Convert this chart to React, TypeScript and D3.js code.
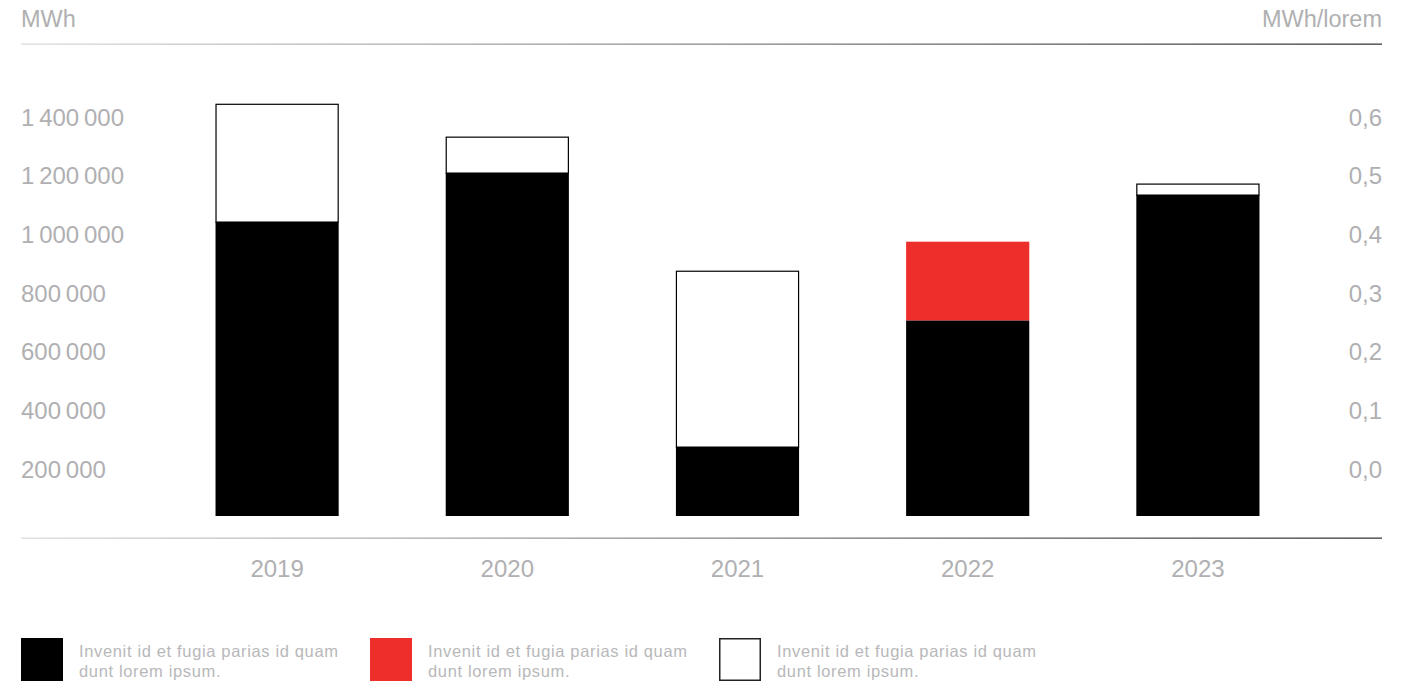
import React from "react";
import * as d3 from "d3";

const years = ["2019", "2020", "2021", "2022", "2023"];
const blackValues = [1043000, 1210000, 276000, 706000, 1135000];
const redValues = [0, 0, 0, 269000, 0];
const whiteValues = [402000, 123000, 600000, 0, 38000];
const leftTicks = [200000, 400000, 600000, 800000, 1000000, 1200000, 1400000];
const rightTicks = [0, 0.1, 0.2, 0.3, 0.4, 0.5, 0.6];
const legendLabels = [
  ["Invenit id et fugia parias id quam", "dunt lorem ipsum."],
  ["Invenit id et fugia parias id quam", "dunt lorem ipsum."],
  ["Invenit id et fugia parias id quam", "dunt lorem ipsum."],
];
const legendKinds = ["black", "red", "white"];

const W = 1413;
const H = 683;
const FONT = "'Liberation Sans', Arial, sans-serif";
const TICK_COLOR = "#b0b0b2";
const RED = "#ee2e2a";

export default function App() {
  const x = d3.scaleBand<string>().domain(years).range([162, 1313]).paddingInner(0.465).paddingOuter(0.2325);
  const y = d3.scaleLinear().domain([40000, 1400000]).range([516, 117]);
  const yR = d3.scaleLinear().domain([0, 0.6]).range([y(200000), y(1400000)]);
  const fmtL = (v: number) => d3.format(",")(v).replace(/,/g, "\u2009");
  const fmtR = (v: number) => d3.format(".1f")(v).replace(".", ",");
  const base = y.domain()[0];

  return (
    <svg width={W} height={H} style={{ position: "absolute", left: 0, top: 0, background: "#fff" }} fontFamily={FONT}>
      <defs>
        <linearGradient id="lineGrad" x1="0" x2="1" y1="0" y2="0">
          <stop offset="0" stopColor="#dcdcdc" />
          <stop offset="1" stopColor="#3a3a3a" />
        </linearGradient>
      </defs>
      <text x={21} y={27} fontSize={23.5} fill={TICK_COLOR}>MWh</text>
      <text x={1382} y={27} fontSize={23.5} fill={TICK_COLOR} textAnchor="end">MWh/lorem</text>
      <rect x={21} y={43.5} width={1361} height={1.3} fill="url(#lineGrad)" />
      <rect x={21} y={537.5} width={1361} height={1.3} fill="url(#lineGrad)" />

      {leftTicks.map((t) => (
        <text key={t} x={21} y={y(t)} dy="0.36em" fontSize={24} fill={TICK_COLOR}>{fmtL(t)}</text>
      ))}
      {rightTicks.map((t) => (
        <text key={t} x={1382} y={yR(t)} dy="0.36em" fontSize={24} fill={TICK_COLOR} textAnchor="end">{fmtR(t)}</text>
      ))}

      {years.map((yr, i) => {
        const bx = x(yr)!;
        const bw = x.bandwidth();
        const b0 = base;
        const b1 = blackValues[i];
        const r1 = b1 + redValues[i];
        const w1 = r1 + whiteValues[i];
        return (
          <g key={yr}>
            {whiteValues[i] > 0 && (
              <rect x={bx + 0.5} y={y(w1) + 0.5} width={bw - 1} height={y(r1) - y(w1)} fill="#fff" stroke="#000" strokeWidth={1.2} />
            )}
            {redValues[i] > 0 && (
              <rect x={bx} y={y(r1)} width={bw} height={y(b1) - y(r1)} fill={RED} />
            )}
            <rect x={bx} y={y(b1)} width={bw} height={y(b0) - y(b1)} fill="#000" />
            <text x={bx + bw / 2} y={577} fontSize={24} fill={TICK_COLOR} textAnchor="middle">{yr}</text>
          </g>
        );
      })}

      {legendKinds.map((k, i) => {
        const lx = 21 + i * 349;
        return (
          <g key={k}>
            <rect
              x={k === "white" ? lx + 0.75 : lx}
              y={k === "white" ? 638.75 : 638}
              width={k === "white" ? 40.5 : 42}
              height={k === "white" ? 41.5 : 43}
              fill={k === "black" ? "#000" : k === "red" ? RED : "#fff"}
              stroke={k === "white" ? "#222" : "none"}
              strokeWidth={1.5}
            />
            <text x={lx + 58} y={657} fontSize={16.5} letterSpacing={0.65} fill="#b8b8ba">{legendLabels[i][0]}</text>
            <text x={lx + 58} y={677} fontSize={16.5} letterSpacing={0.65} fill="#b8b8ba">{legendLabels[i][1]}</text>
          </g>
        );
      })}
    </svg>
  );
}
